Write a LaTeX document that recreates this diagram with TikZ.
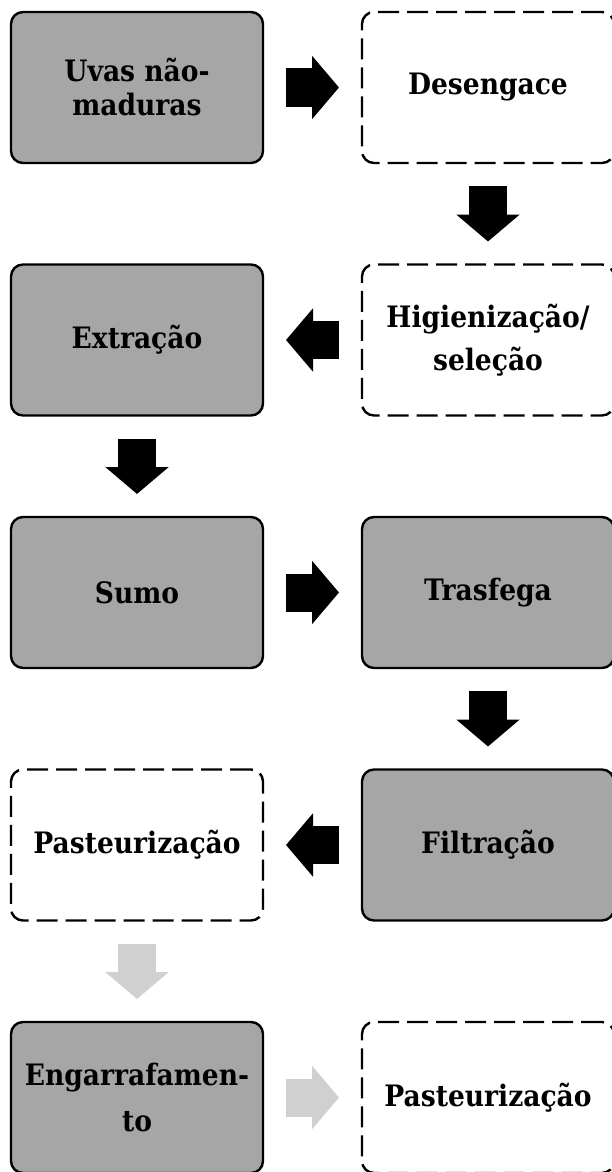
\documentclass[tikz,border=0pt]{standalone}
\usepackage{fontspec}
\setmainfont{DejaVu Serif Condensed}
\usepackage{tikz}
\usetikzlibrary{arrows.meta,positioning}
\definecolor{boxgray}{RGB}{166,166,166}
\definecolor{lightarrow}{RGB}{208,208,208}

\begin{document}
\begin{tikzpicture}[
    x=1pt, y=1pt,
    node distance=101.5pt and 99pt,
    stepgrey/.style={rectangle, draw, line width=2.4pt, rounded corners=12pt, minimum width=252pt, minimum height=151pt, outer sep=0pt, align=center, fill=boxgray},
    stepdash/.style={rectangle, draw, line width=2.4pt, dash pattern=on 21pt off 8pt, rounded corners=12pt, minimum width=252pt, minimum height=151pt, outer sep=0pt, align=center, fill=white},
    blockarrow/.style={line width=38pt, -{Triangle[length=27pt, width=62pt]}, shorten <=23pt, shorten >=23pt},
    font=\bfseries\fontsize{29.5}{38}\selectfont
]
\useasboundingbox (0,0) rectangle (611,-1172);
% Left and right columns
\node[stepgrey] (uvas) at (137,-87.5) {Uvas não-\\[-4pt]maduras};
\node[stepdash, right=of uvas] (desengace) {Desengace};
\node[stepdash, below=of desengace] (higien) {Higienização/\\[5pt]seleção};
\node[stepgrey, below=of uvas] (extracao) {Extração};
\node[stepgrey, below=of extracao] (sumo) {Sumo};
\node[stepgrey, right=of sumo] (trasfega) {Trasfega};
\node[stepgrey, below=of trasfega] (filtracao) {Filtração};
\node[stepdash, below=of sumo] (pasteur) {Pasteurização};
\node[stepgrey, below=of pasteur] (engarraf) {Engarrafamen-\\[8pt]to};
\node[stepdash, right=of engarraf] (pasteurfim) {Pasteurização};
% Black arrows
\draw[blockarrow] (uvas) -- (desengace);
\draw[blockarrow] (desengace) -- (higien);
\draw[blockarrow] (higien) -- (extracao);
\draw[blockarrow] (extracao) -- (sumo);
\draw[blockarrow] (sumo) -- (trasfega);
\draw[blockarrow] (trasfega) -- (filtracao);
\draw[blockarrow] (filtracao) -- (pasteur);
% Grey arrows
\draw[blockarrow, lightarrow] (pasteur) -- (engarraf);
\draw[blockarrow, lightarrow] (engarraf) -- (pasteurfim);
\end{tikzpicture}
\end{document}
